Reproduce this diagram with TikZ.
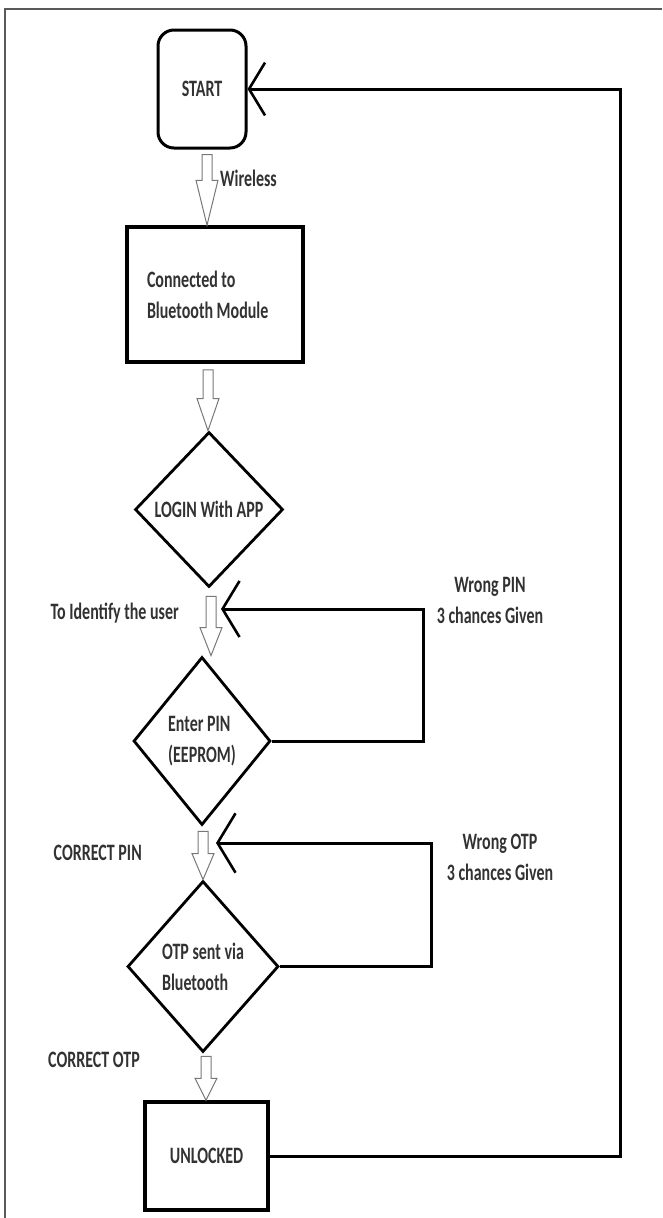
\documentclass[tikz,border=0pt]{standalone}
\usepackage{fontspec}
\setmainfont{Carlito}[FakeStretch=0.68]
\usetikzlibrary{arrows.meta,shapes.geometric,calc}
\definecolor{txt}{RGB}{50,50,50}
\definecolor{hollowline}{RGB}{120,120,120}
\definecolor{framecol}{RGB}{90,90,90}
\newcommand\hollowarrow[5]{%
  \draw[harrow] let \p1=(#1.south), \p2=(#2.north) in
    ({#3pt-5pt},{\y1-#4pt}) -- ({#3pt-5pt},{\y2+#5pt}) -- ({#3pt-11pt},{\y2+#5pt})
    -- ({#3pt},{\y2}) -- ({#3pt+11pt},{\y2+#5pt}) -- ({#3pt+5pt},{\y2+#5pt})
    -- ({#3pt+5pt},{\y1-#4pt}) -- cycle;}
\begin{document}
\begin{tikzpicture}[x=1pt,y=-1pt,
  txtfont/.style={font=\bfseries\fontsize{23.5}{31}\selectfont, text=txt},
  startbox/.style={txtfont, draw=black, line width=3pt, rounded corners=16pt,
    minimum width=88pt, minimum height=118pt, inner sep=0pt},
  procbox/.style={txtfont, draw=black, line width=3.5pt, inner sep=0pt},
  decision/.style={txtfont, draw=black, line width=2.8pt, diamond, inner sep=0pt, align=flush left},
  lbl/.style={txtfont, inner sep=0pt},
  harrow/.style={draw=hollowline, line width=1pt, fill=white, line join=miter},
  fb/.style={draw=black, line width=3pt},
  barb/.style={-{Straight Barb[length=#1pt, width=#1pt*3.3, line width=2.6pt]}},
  frameline/.style={draw=framecol, line width=1.6pt}]
\useasboundingbox (0,0) rectangle (662,1218);
% frame
\draw[frameline] (662,9) -- (5,9) -- (5,1218);
% nodes
\node[startbox] (start) at (202,89) {START};
\node[procbox, minimum width=176pt, minimum height=135pt, text width=136pt,
      inner xsep=20pt, align=flush left] (conn) at (215,294.5) {Connected to\\Bluetooth Module};
\node[decision, minimum width=148pt, minimum height=155pt, align=center] (login) at (209,509.5) {LOGIN With APP};
\node[decision, minimum width=137pt, minimum height=168pt] (pin) at (202,741) {Enter PIN\\(EEPROM)};
\node[decision, minimum width=151pt, minimum height=171pt] (otp) at (203,966.5) {OTP sent via\\Bluetooth};
\node[procbox, minimum width=123pt, minimum height=108pt] (unl) at (206.5,1156) {UNLOCKED};
% hollow arrows
\hollowarrow{start}{conn}{207}{5}{45}
\hollowarrow{conn}{login}{208}{6}{32}
\hollowarrow{login}{pin}{211}{8}{28}
\hollowarrow{pin}{otp}{203}{5}{26}
\hollowarrow{otp}{unl}{206}{3}{22}
% labels
\node[lbl, anchor=west] (wl) at (220,178) {Wireless};
\node[lbl, anchor=east] (tid) at (179,613) {To Identify the user};
\node[lbl, align=center] (wpin) at (490,600) {Wrong PIN\\3 chances Given};
\node[lbl, anchor=east] (cpin) at (142,853) {CORRECT PIN};
\node[lbl, align=center] (wotp) at (500,857) {Wrong OTP\\3 chances Given};
\node[lbl, anchor=east] (cotp) at (140,1060) {CORRECT OTP};
% feedback loops
\coordinate (pinturn) at (423,609);
\coordinate (pinret) at (221,609);
\draw[fb, barb=17] (pin.east) -| (pinturn) -- (pinret);
\coordinate (otpturn) at (431,843);
\coordinate (otpret) at (216,843);
\draw[fb, barb=18] (otp.east) -| (otpturn) -- (otpret);
\coordinate (mainturn) at (620,89);
\draw[fb, barb=16] (unl.east) -| (mainturn) -- (start.east);
\end{tikzpicture}
\end{document}
